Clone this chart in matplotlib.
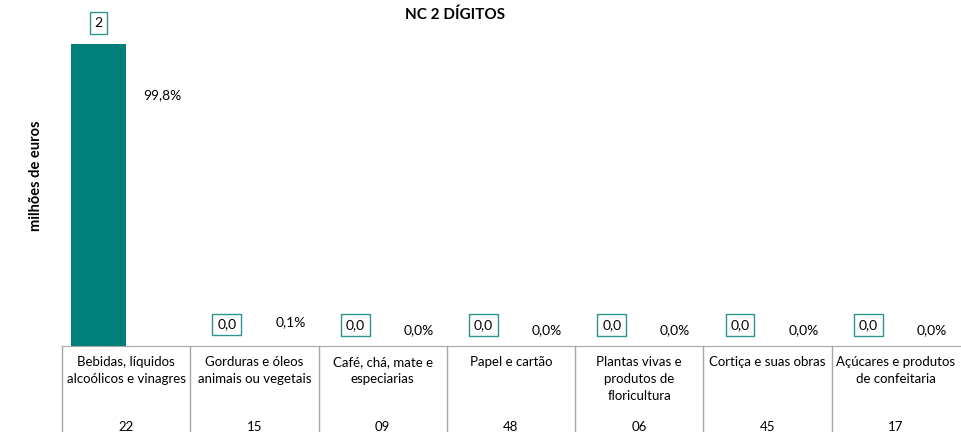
import matplotlib.pyplot as plt
from matplotlib.transforms import blended_transform_factory

# dados (milhões de euros)
categorias = ["Bebidas, líquidos\nalcoólicos e vinagres",
              "Gorduras e óleos\nanimais ou vegetais",
              "Café, chá, mate e\nespeciarias",
              "Papel e cartão",
              "Plantas vivas e\nprodutos de\nfloricultura",
              "Cortiça e suas obras",
              "Açúcares e produtos\nde confeitaria"]
codigos = ["22", "15", "09", "48", "06", "45", "17"]
valores = [2.0, 0.0025, 0.0006, 0.0004, 0.0003, 0.0002, 0.0001]
rotulos_valor = ["2", "0,0", "0,0", "0,0", "0,0", "0,0", "0,0"]
pesos = [99.8, 0.1, 0.0, 0.0, 0.0, 0.0, 0.0]

plt.rcParams['font.family'] = ['Lato', 'DejaVu Sans']
teal = '#007F7B'
box_edge = '#2A948F'
cinza = '#A6A6A6'

W, H = 961, 432
fig = plt.figure(figsize=(W / 100, H / 100), dpi=100)
ax = fig.add_axes([62 / W, 1 - 346 / H, 898 / W, 316 / H])

x = list(range(len(valores)))
xb = [i - 0.215 for i in x]
ax.bar(xb, valores, width=0.43, color=teal)
ax.set_xlim(-0.5, len(valores) - 0.5)
ax.set_ylim(0, 2.0 / (302 / 316))

for s in ['top', 'right', 'left']:
    ax.spines[s].set_visible(False)
ax.spines['bottom'].set_color(cinza)
ax.set_xticks([])
ax.set_yticks([])

# rótulos de valor em caixa
for xi, v, r in zip(xb, valores, rotulos_valor):
    ax.annotate(r, (xi, v), xytext=(0, 21), textcoords='offset pixels',
                ha='center', va='center', fontsize=10,
                bbox=dict(boxstyle='square,pad=0.35', fc='white', ec=box_edge, lw=1))

# pesos (%) num eixo secundário invisível
ax2 = ax.twinx()
ax2.set_ylim(0, 0.998 * 316 / 235)
ax2.axis('off')
for xi, p in zip(x, pesos):
    ax2.annotate(f"{p:.1f}%".replace('.', ','), (xi + 0.28, p / 100),
                 xytext=(0, 16 + (8 if 0 < p < 1 else 0)), textcoords='offset pixels',
                 ha='center', va='center', fontsize=10)

# tabela de categorias
tr = blended_transform_factory(ax.transData, fig.transFigure)
for i, (c, cod) in enumerate(zip(categorias, codigos)):
    ax.plot([i - 0.5, i - 0.5], [1 - 346 / H, 0], color=cinza, lw=1,
            transform=tr, clip_on=False)
    ax.text(i, 1 - 356 / H, c, transform=tr, ha='center', va='top',
            fontsize=9.5, linespacing=1.5)
    ax.text(i, 1 - 427 / H, cod, transform=tr, ha='center', va='center', fontsize=9.5)

fig.text(455 / W, 1 - 15 / H, "NC 2 DÍGITOS", ha='center', va='center',
         fontsize=11, fontweight='bold')
fig.text(36 / W, 1 - 176 / H, "milhões de euros", ha='center', va='center',
         rotation=90, fontsize=10.5, fontweight='bold')

fig.savefig("out.png", dpi=100)
